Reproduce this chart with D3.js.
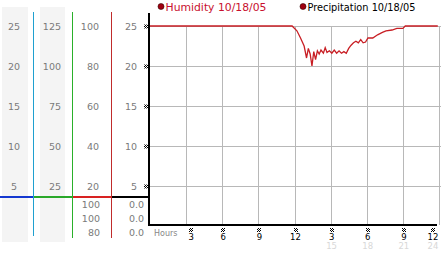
<!DOCTYPE html>
<html>
<head>
<meta charset="utf-8">
<script src="https://cdn.jsdelivr.net/npm/d3@7"></script>
<style>
  body { margin: 0; background: #fff; }
  svg { display: block; }
  text { font-family: "DejaVu Sans", sans-serif; }
</style>
</head>
<body>
<div id="chart"></div>
<script>
/* DATA */
const hours = [0, 6, 11.8, 12.2, 12.5, 12.8, 13.0, 13.15, 13.3, 13.45, 13.6, 13.75, 13.9, 14.05, 14.2,
  14.4, 14.55, 14.7, 14.9, 15.1, 15.3, 15.5, 15.7, 15.9, 16.1, 16.3, 16.5, 16.7, 16.9, 17.1, 17.3,
  17.5, 17.7, 17.9, 18.1, 18.5, 18.9, 19.3, 19.6, 20.1, 20.5, 21.0, 21.2, 22.7, 23.9];
const humidity = [25, 25, 25, 24.4, 23.5, 22.5, 21.0, 22.2, 21.5, 20.0, 21.8, 20.8, 21.9, 21.5, 22.0,
  21.6, 22.3, 21.7, 21.9, 21.6, 22.0, 21.6, 21.9, 21.6, 21.8, 21.6, 22.2, 22.6, 22.9, 23.1, 22.9,
  23.3, 22.9, 23.0, 23.5, 23.5, 23.9, 24.2, 24.4, 24.5, 24.7, 24.7, 25, 25, 25];

const legendLabels = ["Humidity 10/18/05", "Precipitation 10/18/05"];
const hourTicks = [3, 6, 9, 12, 15, 18, 21, 24];
const hourLabels = ["3", "6", "9", "12", "3", "6", "9", "12"];
const faintHours = [15, 18, 21, 24];
const leftTicks = [5, 10, 15, 20, 25];
const panelMax = [25, 125, 100, 25];
const col3Summary = ["100", "100", "80"];
const col4Summary = ["0.0", "0.0", "0.0"];

/* LAYOUT */
const width = 442, height = 253;
const plot = { left: 150, right: 439, top: 26, bottom: 226 };
const sepY = 197;

const svg = d3.select("#chart").append("svg")
  .attr("width", width)
  .attr("height", height);

// tiny checker marker pattern
const defs = svg.append("defs");
const pat = defs.append("pattern").attr("id", "chk")
  .attr("width", 2).attr("height", 2).attr("patternUnits", "userSpaceOnUse");
pat.append("rect").attr("x", 0).attr("y", 0).attr("width", 1).attr("height", 1).attr("fill", "#000");
pat.append("rect").attr("x", 1).attr("y", 1).attr("width", 1).attr("height", 1).attr("fill", "#000");

/* SCALES */
const xScale = d3.scaleLinear().domain([0, 24]).range([plot.left, plot.right]);
const yScale = d3.scaleLinear().domain([0, 25]).range([plot.bottom, plot.top]);
const panelScales = panelMax.map(m => d3.scaleLinear().domain([0, m]).range([plot.bottom, plot.top]));

/* LEFT PANELS */
// grey bands
[[2, 28], [40, 65]].forEach(([a, b]) => {
  svg.append("rect").attr("x", a).attr("y", 7).attr("width", b - a).attr("height", 235)
    .attr("fill", "#f4f4f4");
});

// separator lines
const seps = [
  { x0: 0, x1: 33, h: "#1438d0" },
  { x0: 33, x1: 72, h: "#2aa82a" },
  { x0: 72, x1: 111, h: "#d82222" },
  { x0: 111, x1: 150, h: "#000" }
];
seps.forEach(s => {
  svg.append("line").attr("x1", s.x0).attr("x2", s.x1).attr("y1", sepY).attr("y2", sepY)
    .attr("stroke", s.h).attr("stroke-width", 2);
});
const vlines = [
  { x: 33.5, y2: 236, c: "#1fa0d0" },
  { x: 72.5, y2: 238, c: "#2ab02a" },
  { x: 111.5, y2: 238, c: "#c02c2c" }
];
vlines.forEach(v => {
  svg.append("line").attr("x1", v.x).attr("x2", v.x).attr("y1", 12).attr("y2", v.y2)
    .attr("stroke", v.c).attr("stroke-width", 1);
});

// panel tick labels
const panelTextX = [{ x: 14, a: "middle" }, { x: 61, a: "end" }, { x: 99, a: "end" }, { x: 137, a: "end" }];
panelScales.forEach((sc, i) => {
  const ticks = leftTicks.map(t => t * panelMax[i] / 25);
  svg.append("g").selectAll("text")
    .data(ticks)
    .join("text")
    .attr("x", panelTextX[i].x)
    .attr("y", d => sc(d) + 3.5)
    .attr("text-anchor", panelTextX[i].a)
    .attr("font-size", 9.5)
    .attr("fill", "#7a7a7a")
    .text(d => d);
});

// summary rows under the separator
const rowY = [204, 218, 232];
svg.append("g").selectAll("text").data(col3Summary).join("text")
  .attr("x", 100).attr("y", (d, i) => rowY[i] + 3.5)
  .attr("text-anchor", "end").attr("font-size", 9.5).attr("fill", "#7a7a7a")
  .text(d => d);
svg.append("g").selectAll("text").data(col4Summary).join("text")
  .attr("x", 144).attr("y", (d, i) => rowY[i] + 3.5)
  .attr("text-anchor", "end").attr("font-size", 9.5).attr("fill", "#7a7a7a")
  .text(d => d);

/* GRID */
svg.append("g").selectAll("line").data(leftTicks).join("line")
  .attr("x1", plot.left).attr("x2", 441)
  .attr("y1", d => Math.round(yScale(d)) + 0.5).attr("y2", d => Math.round(yScale(d)) + 0.5)
  .attr("stroke", "#b8b8b8");
svg.append("g").selectAll("line").data(hourTicks).join("line")
  .attr("x1", d => Math.round(xScale(d)) + 0.5).attr("x2", d => Math.round(xScale(d)) + 0.5)
  .attr("y1", plot.top).attr("y2", plot.bottom - 1)
  .attr("stroke", "#b8b8b8");

/* AXES */
svg.append("line").attr("x1", plot.left - 1).attr("x2", plot.left - 1)
  .attr("y1", 13).attr("y2", plot.bottom).attr("stroke", "#000").attr("stroke-width", 2);
svg.append("line").attr("x1", plot.left - 2).attr("x2", 437)
  .attr("y1", plot.bottom - 1).attr("y2", plot.bottom - 1).attr("stroke", "#000").attr("stroke-width", 2);

// left markers
svg.append("g").selectAll("rect").data(leftTicks).join("rect")
  .attr("x", 144).attr("y", d => Math.round(yScale(d)) - 1.5)
  .attr("width", 4).attr("height", 4).attr("fill", "url(#chk)");

// bottom labels (first and last nudged inward like the original)
const nudge = (d, i) => i === 0 ? 5 : (i === hourTicks.length - 1 ? -6 : 1);
const xAxisG = svg.append("g");
xAxisG.selectAll("rect").data(hourTicks).join("rect")
  .attr("x", (d, i) => Math.round(xScale(d) + nudge(d, i)) - 2)
  .attr("y", 228).attr("width", 4).attr("height", 4).attr("fill", "url(#chk)");
xAxisG.selectAll("text.hl").data(hourTicks).join("text")
  .attr("class", "hl")
  .attr("x", (d, i) => xScale(d) + nudge(d, i))
  .attr("y", 240)
  .attr("text-anchor", "middle")
  .attr("font-size", 8.5)
  .attr("fill", "#000")
  .text((d, i) => hourLabels[i]);
xAxisG.selectAll("text.fh").data(faintHours).join("text")
  .attr("class", "fh")
  .attr("x", d => xScale(d) + nudge(d, hourTicks.indexOf(d)))
  .attr("y", 249)
  .attr("text-anchor", "middle")
  .attr("font-size", 8.5)
  .attr("fill", "#d8d8d8")
  .text(d => d);
svg.append("text").attr("x", 154).attr("y", 236)
  .attr("font-size", 8).attr("fill", "#888").text("Hours");

/* HUMIDITY LINE */
const points = hours.map((h, i) => ({ h, v: humidity[i] }));
svg.append("path")
  .datum(points)
  .attr("fill", "none")
  .attr("stroke", "#c81e24")
  .attr("stroke-width", 1.3)
  .attr("d", d3.line().x(d => xScale(d.h)).y(d => yScale(d.v)));

/* LEGEND */
const legend = [
  { x: 161, c: "#c8102e", w: 101 },
  { x: 303, c: "#000", w: 108 }
];
legend.forEach((l, i) => {
  svg.append("circle").attr("cx", l.x).attr("cy", 6.5).attr("r", 3)
    .attr("fill", "#a00010").attr("stroke", "#300").attr("stroke-width", 0.6);
  svg.append("text").attr("x", l.x + 4.5).attr("y", 10.5)
    .attr("font-size", 10.5).attr("fill", l.c)
    .attr("textLength", l.w).attr("lengthAdjust", "spacingAndGlyphs")
    .text(legendLabels[i]);
});
</script>
</body>
</html>
